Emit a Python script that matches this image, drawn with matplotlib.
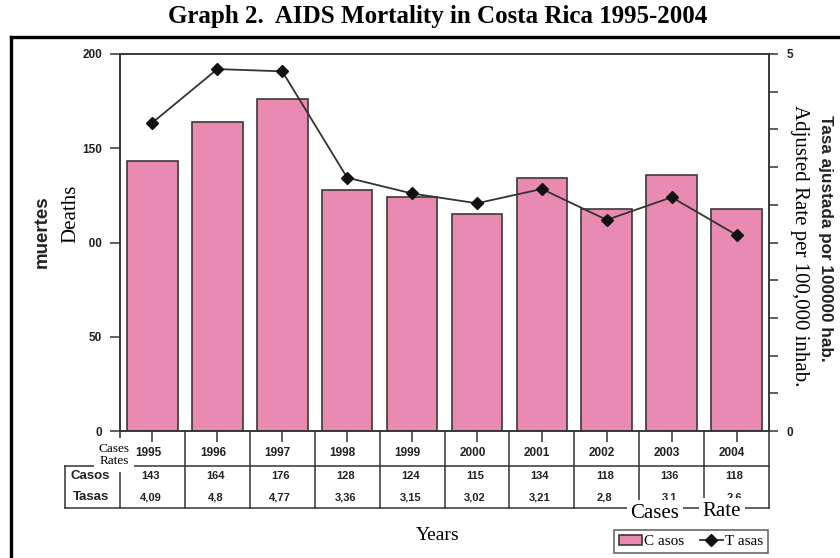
import matplotlib
matplotlib.use("Agg")
import matplotlib.pyplot as plt
import matplotlib.transforms as mtransforms
from matplotlib.lines import Line2D

# Data: AIDS deaths and adjusted rate per 100,000 inhabitants, Costa Rica
years = ["1995", "1996", "1997", "1998", "1999", "2000", "2001", "2002", "2003", "2004"]
casos = [143, 164, 176, 128, 124, 115, 134, 118, 136, 118]
tasas = [4.09, 4.8, 4.77, 3.36, 3.15, 3.02, 3.21, 2.8, 3.1, 2.6]
left_ticks = [0, 50, 100, 150, 200]
right_ticks = [0, 0.5, 1, 1.5, 2, 2.5, 3, 3.5, 4, 4.5, 5]
right_labelled = [0, 5]

W, H = 840, 558
SERIF = "Liberation Serif"
SANS = "Liberation Sans"
PINK = "#E98BB0"
EDGE = "#3a3a3a"
INK = "#333333"


def fx(px):
    return px / W


def fy(py):
    return 1 - py / H


fig = plt.figure(figsize=(W / 100, H / 100), dpi=100)
fig.patch.set_facecolor("white")

# Outer frame (top and left edges)
fig.add_artist(Line2D([fx(11), fx(840)], [fy(37), fy(37)], color="black", lw=2.4))
fig.add_artist(Line2D([fx(11), fx(11)], [fy(37), fy(558)], color="black", lw=2.4))

fig.text(fx(438), fy(16), "Graph 2.  AIDS Mortality in Costa Rica 1995-2004",
         ha="center", va="center", fontsize=18, fontweight="bold", family=SERIF)

ax_top, ax_bot = 54, 431
ax = fig.add_axes([fx(120), fy(ax_bot), 649 / W, (ax_bot - ax_top) / H])
x = list(range(len(years)))
bars = ax.bar(x, casos, width=0.78, color=PINK, edgecolor=EDGE, linewidth=1.2,
              label="C asos", zorder=2)
ax.set_xlim(-0.5, len(years) - 0.5)
ax.set_ylim(0, 200)
ax.set_yticks(left_ticks)
ax.set_yticklabels([str(t) for t in left_ticks], fontsize=8.5, fontweight="bold",
                   family=SANS, color="#222")
ax.tick_params(axis="y", direction="out", length=7, width=1.1, pad=6, colors=INK,
               labelcolor="#222")
ax.set_xticks(x)
ax.set_xticklabels([])
ax.tick_params(axis="x", direction="inout", length=16, width=1.1, colors=INK)
for s in ax.spines.values():
    s.set_color(INK)
    s.set_linewidth(1.1)

ax2 = ax.twinx()
line, = ax2.plot(x, tasas, color=INK, lw=1.3, marker="D", markersize=6,
                 markerfacecolor="#111", markeredgecolor="#111", label="T asas", zorder=3)
ax2.set_ylim(0, 5)
ax2.set_yticks(right_ticks)
ax2.set_yticklabels([("%g" % t) if t in right_labelled else "" for t in right_ticks],
                    fontsize=8.5, fontweight="bold", family=SANS, color="#222")
ax2.tick_params(axis="y", direction="out", length=6.5, width=1.1, pad=6, colors=INK,
                labelcolor="#222")
for s in ax2.spines.values():
    s.set_color(INK)
    s.set_linewidth(1.1)

# Data table under the axis
tr = mtransforms.blended_transform_factory(ax.transData, ax.transAxes)


def ya(py):
    return (ax_bot - py) / (ax_bot - ax_top)


row_line, table_bot = 466, 508
box_left = -0.5 - 55 / 64.9
lk = dict(color=INK, lw=1.1, transform=tr, clip_on=False)
for i in range(len(years) + 1):
    ax.add_artist(Line2D([i - 0.5, i - 0.5], [ya(ax_bot), ya(table_bot)], **lk))
ax.add_artist(Line2D([box_left, len(years) - 0.5], [ya(row_line), ya(row_line)], **lk))
ax.add_artist(Line2D([box_left, len(years) - 0.5], [ya(table_bot), ya(table_bot)], **lk))
ax.add_artist(Line2D([box_left, box_left], [ya(row_line), ya(table_bot)], **lk))

tk = dict(ha="center", va="center", fontweight="bold", family=SANS,
          color="#222", transform=tr, clip_on=False)
for i, (yr, c, t) in enumerate(zip(years, casos, tasas)):
    ax.text(i - 0.07, ya(453), yr, fontsize=8.5, **tk)
    ax.text(i - 0.03, ya(476), str(c), fontsize=8, **tk)
    ax.text(i - 0.03, ya(497), ("%g" % t).replace(".", ","), fontsize=8, **tk)
lab_x = (box_left - 0.5) / 2 - 0.03
hk = dict(tk, fontsize=9.5)
ax.text(lab_x, ya(476), "Casos", **hk)
ax.text(lab_x, ya(497), "Tasas", **hk)

# Axis titles
fig.text(fx(42), fy(232), "muertes", rotation=90, ha="center", va="center",
         fontsize=13.5, fontweight="bold", family=SANS, color="#222")
fig.text(fx(825), fy(238), "Tasa ajustada por 100000 hab.", rotation=-90,
         ha="center", va="center", fontsize=12.3, fontweight="bold", family=SANS,
         color="#222")

# English labels on white patches
wb = dict(facecolor="white", edgecolor="none", pad=4)
fig.text(fx(71), fy(214), "Deaths", rotation=90, ha="center", va="center",
         fontsize=15, family=SERIF, bbox=dict(wb, pad=6.5), zorder=10)
fig.text(fx(800), fy(246), "Adjusted Rate per 100,000 inhab.", rotation=-90,
         ha="center", va="center", fontsize=15, family=SERIF,
         bbox=dict(wb, pad=6), zorder=10)
fig.text(fx(114), fy(455), "Cases\nRates", ha="center", va="center",
         fontsize=9.5, family=SERIF, linespacing=1.0, bbox=dict(wb, pad=3.5), zorder=10)
fig.text(fx(655), fy(513), "Cases", ha="center", va="center", fontsize=15,
         family=SERIF, bbox=dict(wb, pad=2.5), zorder=10)
fig.text(fx(722), fy(511), "Rate", ha="center", va="center", fontsize=15,
         family=SERIF, bbox=dict(wb, pad=2.5), zorder=10)
fig.text(fx(438), fy(536), "Years", ha="center", va="center", fontsize=14,
         family=SERIF)

leg = fig.legend(handles=[bars, line], labels=["C asos", "T asas"], ncol=2,
                 loc="center", bbox_to_anchor=(fx(691), fy(541.5)),
                 prop=dict(family=SERIF, size=11), frameon=True, fancybox=False,
                 handlelength=1.5, handleheight=0.6, handletextpad=0.15,
                 columnspacing=1.0, borderpad=0.3)
leg.get_frame().set_edgecolor(INK)
leg.get_frame().set_linewidth(1.1)

fig.savefig("out.png", dpi=100)
